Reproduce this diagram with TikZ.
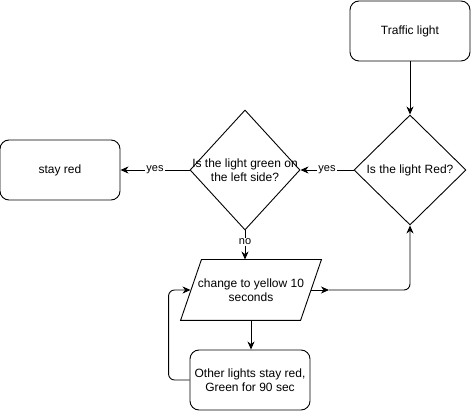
\documentclass[tikz,border=0pt]{standalone}
\usepackage{fontspec}
\setmainfont{Liberation Sans}
\usetikzlibrary{shapes.geometric,arrows.meta}

\begin{document}
\begin{tikzpicture}[x=1pt, y=-1pt, line width=0.9pt,
    font=\fontsize{12}{14.5}\selectfont,
    box/.style={draw, rounded corners=9pt, minimum width=120pt, minimum height=60pt, align=center},
    decision/.style={draw, diamond, inner sep=0pt},
    io/.style={minimum width=140pt, minimum height=60pt, inner sep=0pt, align=center},
    flow/.style={-{Stealth[length=8pt,width=7pt,inset=2.5pt]}},
    answer/.style={fill=white, inner sep=1pt, font=\fontsize{11}{13}\selectfont}]
    \useasboundingbox (0,0) rectangle (471,411);

    % Start
    \node [box] (traffic) at (410,31) {Traffic light};

    % Decisions
    \node [decision, minimum width=112pt, minimum height=110pt,
      label={[align=center]center:Is the light Red?}] (red) at (410,170) {};
    \node [decision, minimum width=110pt, minimum height=120pt,
      label={[align=center]center:Is the light green on\\the left side?}] (green) at (245,170) {};

    % Outcomes
    \node [box] (stayred) at (60,170) {stay red};
    \node [io] (change) at (251,290) {change to yellow 10\\seconds};
    \draw (change.south west) -- ++(120,0) -- (change.north east) -- ++(-120,0) -- cycle; % parallelogram
    \node [box] (other) at (250,380) {Other lights stay red,\\Green for 90 sec};

    % Flow
    \draw [flow] (traffic) -- (red);
    \draw [flow] (red.west) -- node[answer] {yes} (green.east);
    \draw [flow] (green.west) -- node[answer] {yes} (stayred.east);
    \draw [flow] (green.south) -- node[answer, pos=0.4] {no} (green.south |- change.north);
    \draw [flow] (change.south) -- (change.south |- other.north);

    % Loop back
    \draw [flow, rounded corners=6pt] (other.west) -- ++(-21,0) |- ([xshift=10pt]change.west);
    \coordinate (turn) at (329,290);
    \draw [flow] ([xshift=-10pt]change.east) -- (turn);
    \draw [flow, rounded corners=6pt] (turn) -| (red.south);
\end{tikzpicture}
\end{document}
